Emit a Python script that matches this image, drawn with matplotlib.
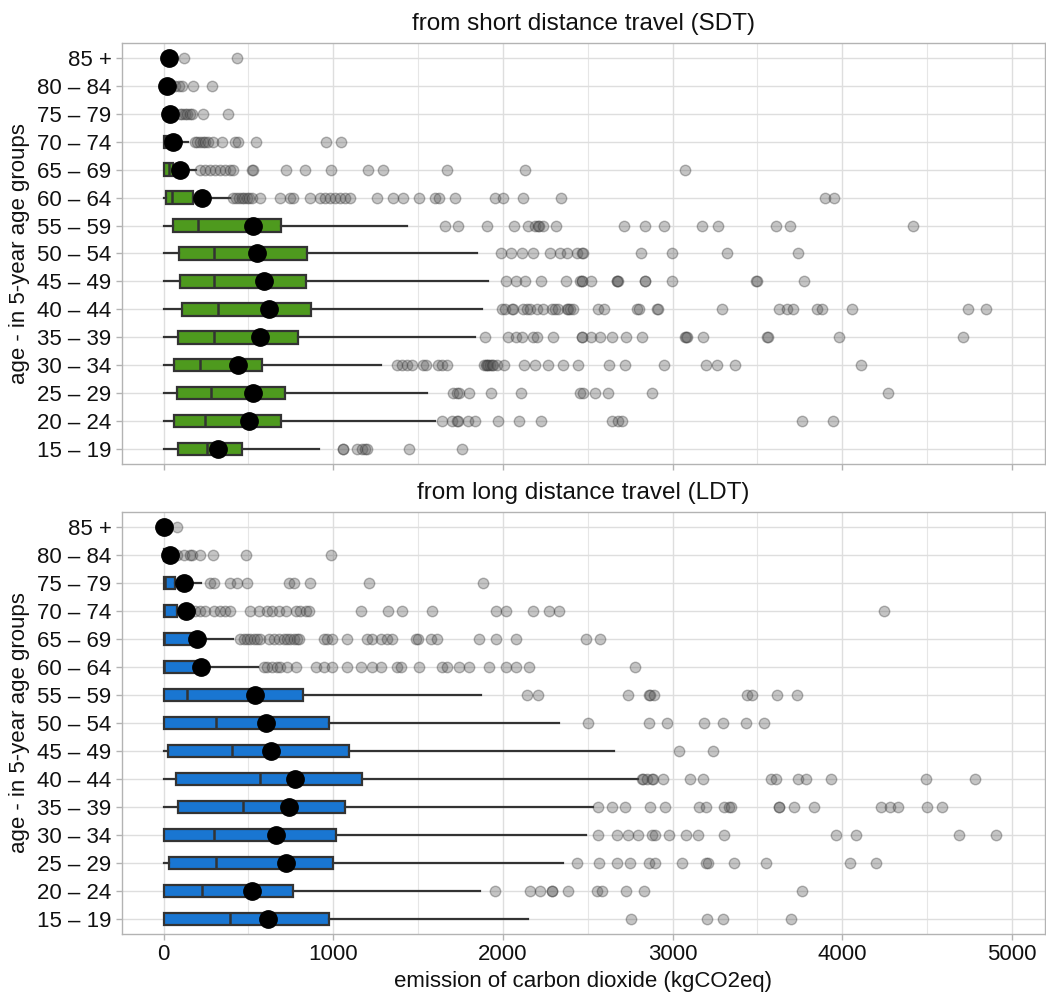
import matplotlib.pyplot as plt
from matplotlib.ticker import MultipleLocator

plt.rcParams['font.family'] = ['Liberation Sans', 'DejaVu Sans']

# ------------------------------------------------------------
# Data, youngest group first
# ------------------------------------------------------------
age_groups = ["15 – 19", "20 – 24", "25 – 29", "30 – 34", "35 – 39",
              "40 – 44", "45 – 49", "50 – 54", "55 – 59", "60 – 64",
              "65 – 69", "70 – 74", "75 – 79", "80 – 84", "85 +"]

# short distance travel (SDT)
sdt_q1 = [83, 62, 78, 64, 83, 111, 97, 93, 58, 13, 5, 0, 0, 0, 0]
sdt_med = [258, 245, 280, 215, 300, 321, 297, 297, 205, 48, 34, 10, 0, 0, 0]
sdt_q3 = [464, 691, 716, 579, 791, 867, 840, 844, 691, 176, 56, 40, 0, 0, 0]
sdt_lo = [0, 0, 0, 0, 0, 0, 0, 0, 0, 0, 0, 0, 0, 0, 0]
sdt_hi = [916, 1600, 1555, 1280, 1836, 1875, 1914, 1846, 1437, 392, 191, 146, 0, 0, 0]
sdt_mean = [321, 504, 525, 441, 569, 624, 594, 549, 529, 229, 97, 56, 38, 22, 34]
sdt_out = [
    [1056, 1060, 1142, 1168, 1187, 1197, 1447, 1761],
    [1639, 1698, 1728, 1737, 1796, 1836, 1969, 2095, 2225, 2641, 2680, 2700,
     3766, 3943],
    [1704, 1728, 1743, 1800, 1930, 2105, 2454, 2474, 2543, 2621, 2881, 4268],
    [1374, 1404, 1433, 1463, 1531, 1547, 1619, 1639, 1669, 1890, 1900, 1905,
     1915, 1924, 1935, 1944, 1963, 2007, 2125, 2190, 2268, 2352, 2444, 2627,
     2720, 2951, 3200, 3260, 3368, 4110],
    [1895, 2032, 2077, 2111, 2176, 2203, 2293, 2464, 2468, 2517, 2572, 2645,
     2726, 2822, 3073, 3080, 3087, 3178, 3555, 3561, 3980, 4711],
    [1993, 2013, 2052, 2062, 2121, 2141, 2160, 2200, 2239, 2288, 2308, 2327,
     2376, 2386, 2396, 2415, 2562, 2596, 2788, 2804, 2906, 2916, 3289, 3627,
     3672, 3711, 3849, 3878, 4055, 4744, 4849],
    [2018, 2075, 2130, 2226, 2370, 2454, 2464, 2464, 2517, 2671, 2675, 2680,
     2837, 2840, 2998, 3492, 3495, 3774],
    [1989, 2048, 2114, 2179, 2278, 2337, 2376, 2435, 2464, 2474, 2812, 2995,
     3319, 3737],
    [1659, 1737, 1905, 2067, 2146, 2190, 2205, 2215, 2238, 2311, 2714, 2838,
     2951, 3172, 3270, 3609, 3692, 4419],
    [411, 430, 445, 460, 475, 490, 505, 520, 569, 687, 746, 765, 863, 922, 950,
     980, 1010, 1040, 1070, 1099, 1256, 1354, 1410, 1507, 1600, 1625, 1718,
     1953, 2003, 2121, 2341, 3898, 3953],
    [215, 245, 274, 303, 333, 362, 392, 411, 520, 529, 722, 834, 987, 1207,
     1295, 1672, 2131, 3073],
    [186, 200, 215, 230, 245, 264, 293, 343, 421, 440, 545, 957, 1046],
    [95, 110, 125, 140, 155, 168, 231, 378],
    [70, 90, 110, 176, 288],
    [123, 435],
]

# long distance travel (LDT)
ldt_q1 = [0, 0, 33, 0, 83, 73, 26, 0, 0, 0, 0, 0, 0, 0, 0]
ldt_med = [390, 226, 311, 295, 468, 567, 404, 311, 138, 3, 3, 5, 10, 0, 0]
ldt_q3 = [978, 764, 998, 1018, 1067, 1167, 1096, 978, 823, 217, 187, 79, 69, 15, 0]
ldt_lo = [0, 0, 0, 0, 0, 0, 0, 0, 0, 0, 0, 0, 0, 0, 0]
ldt_hi = [2150, 1866, 2356, 2490, 2529, 2799, 2654, 2333, 1874, 555, 409, 140, 222, 30, 0]
ldt_mean = [614, 522, 719, 665, 738, 774, 636, 606, 541, 222, 197, 132, 122, 38, 5]
ldt_out = [
    [2758, 3205, 3299, 3700],
    [1953, 2159, 2220, 2287, 2290, 2384, 2553, 2582, 2727, 2831, 3765],
    [2437, 2565, 2674, 2751, 2860, 2896, 3053, 3198, 3210, 3362, 3553, 4048,
     4200],
    [2558, 2671, 2739, 2799, 2877, 2896, 2980, 3077, 3149, 3306, 3963, 4084,
     4690, 4905],
    [2558, 2642, 2722, 2867, 2956, 3157, 3198, 3302, 3331, 3343, 3626, 3630,
     3718, 3831, 4229, 4284, 4328, 4497, 4587],
    [2819, 2825, 2848, 2879, 2884, 2944, 3101, 3181, 3579, 3608, 3741, 3789,
     3934, 4495, 4780],
    [3041, 3239],
    [2502, 2864, 2968, 3186, 3299, 3432, 3541],
    [2140, 2208, 2739, 2864, 2870, 2889, 3439, 3471, 3613, 3736],
    [591, 610, 640, 669, 689, 728, 778, 896, 945, 994, 1083, 1161, 1230, 1280,
     1378, 1399, 1506, 1644, 1673, 1742, 1801, 1919, 2018, 2077, 2156, 2780],
    [453, 473, 492, 512, 531, 551, 571, 620, 650, 679, 709, 728, 748, 768, 787,
     797, 945, 965, 994, 1083, 1201, 1230, 1280, 1319, 1348, 1486, 1500, 1575,
     1614, 1860, 1961, 2075, 2490, 2575],
    [157, 187, 217, 246, 295, 335, 364, 394, 512, 561, 610, 640, 679, 719, 778,
     807, 837, 856, 1161, 1323, 1407, 1581, 1959, 2018, 2179, 2270, 2333, 4248],
    [276, 295, 394, 433, 492, 738, 768, 862, 1211, 1884],
    [79, 118, 157, 167, 217, 291, 488, 988],
    [81],
]

FS = 16          # tick labels and axis titles
FS_TITLE = 17.5  # panel titles
GRAY = '#b3b3b3'


def draw_panel(ax, q1, med, q3, lo, hi, means, outliers, color, title):
    pos = list(range(1, len(age_groups) + 1))
    stats = []
    for i in range(len(age_groups)):
        stats.append(dict(q1=q1[i], med=med[i], q3=q3[i],
                          whislo=lo[i], whishi=hi[i], fliers=outliers[i]))
    ax.bxp(stats, positions=pos, orientation='horizontal', widths=0.45,
           patch_artist=True, showcaps=False,
           boxprops=dict(facecolor=color, edgecolor='#333333', linewidth=1.6),
           medianprops=dict(color='#333333', linewidth=1.8),
           whiskerprops=dict(color='#333333', linewidth=1.6),
           flierprops=dict(marker='o', markerfacecolor='#5a5a5a',
                           markeredgecolor='#333333', alpha=0.35,
                           markersize=7.5, linestyle='none'))
    # mean per group
    ax.plot(means, pos, 'o', color='black', markersize=12.5, zorder=5)

    ax.set_yticks(pos)
    ax.set_yticklabels(age_groups)
    ax.set_ylim(0.46, len(age_groups) + 0.54)
    ax.set_xlim(-245, 5195)
    ax.xaxis.set_major_locator(MultipleLocator(1000))
    ax.xaxis.set_minor_locator(MultipleLocator(500))
    ax.set_axisbelow(True)
    ax.grid(which='major', color='#dedede', linewidth=1.0)
    ax.grid(which='minor', axis='x', color='#e6e6e6', linewidth=0.8)
    ax.tick_params(which='major', color=GRAY, length=4, width=1,
                   labelsize=FS, labelcolor='#111111')
    ax.tick_params(which='minor', length=0)
    for s in ax.spines.values():
        s.set_color(GRAY)
        s.set_linewidth(1.0)
    ax.set_title(title, fontsize=FS_TITLE, pad=9, color='#111111')
    ax.set_ylabel('age - in 5-year age groups', fontsize=FS, labelpad=5,
                  color='#111111')


fig = plt.figure(figsize=(10.46, 9.97), dpi=100)
ax_top = fig.add_axes([0.1166, 0.5346, 0.8824, 0.4223])
ax_bot = fig.add_axes([0.1166, 0.0632, 0.8824, 0.4233], sharex=ax_top)

draw_panel(ax_top, sdt_q1, sdt_med, sdt_q3, sdt_lo, sdt_hi, sdt_mean, sdt_out,
           '#4e9a1e', 'from short distance travel (SDT)')
draw_panel(ax_bot, ldt_q1, ldt_med, ldt_q3, ldt_lo, ldt_hi, ldt_mean, ldt_out,
           '#1976d2', 'from long distance travel (LDT)')

ax_top.tick_params(labelbottom=False)
ax_bot.set_xlabel('emission of carbon dioxide (kgCO2eq)', fontsize=FS,
                  color='#111111')

fig.savefig('out.png', dpi=100)
